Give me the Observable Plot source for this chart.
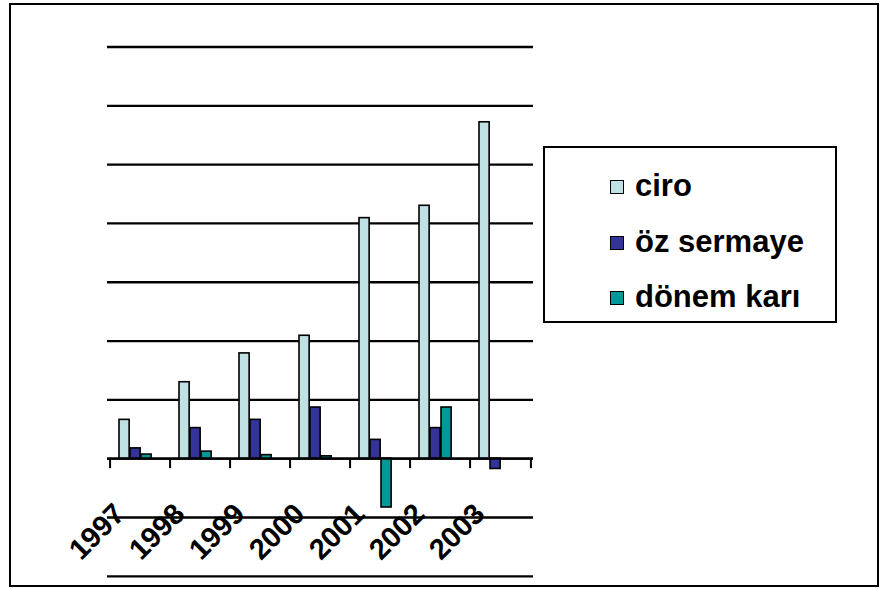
<!DOCTYPE html>
<html>
<head>
<meta charset="utf-8">
<script src="https://cdn.jsdelivr.net/npm/d3@7"></script>
<script src="https://cdn.jsdelivr.net/npm/@observablehq/plot@0.6"></script>
<style>
  html, body { margin: 0; padding: 0; background: #fff; }
  #wrap { position: relative; width: 880px; height: 589px; overflow: hidden; font-family: "Liberation Sans", Arial, sans-serif; }
  #frame { position: absolute; left: 9px; top: 3px; width: 866px; height: 580px; border: 2px solid #000; pointer-events: none; }
  #chart { position: absolute; left: 0; top: 0; }
  #legend { position: absolute; left: 543px; top: 146px; width: 290px; height: 173px; border: 2px solid #000; background: #fff; }
  .item { position: absolute; left: 65px; display: flex; align-items: center; font-weight: bold; font-size: 31px; color: #000; line-height: 1; white-space: nowrap; }
  .sw { width: 12px; height: 12px; border: 1.6px solid #000; margin-right: 11px; margin-top: 3px; }
</style>
</head>
<body>
<div id="wrap">
  <div id="chart"></div>
  <div id="legend"></div>
  <div id="frame"></div>
</div>
<script>
const years = ["1997", "1998", "1999", "2000", "2001", "2002", "2003"];
const seriesNames = ["ciro", "öz sermaye", "dönem karı"];
const ciro = [0.66, 1.30, 1.79, 2.09, 4.09, 4.30, 5.72];
const ozSermaye = [0.175, 0.52, 0.66, 0.87, 0.32, 0.52, -0.175];
const donemKari = [0.07, 0.12, 0.06, 0.04, -0.83, 0.87, null];
const gridValues = [-2, -1, 0, 1, 2, 3, 4, 5, 6, 7];
const colors = ["#C0E1E4", "#333399", "#009999"];

const seriesValues = [ciro, ozSermaye, donemKari];
const rows = seriesValues.map((vals) =>
  years.map((year, i) => ({year, value: vals[i]})).filter(d => d.value != null)
);

const W = 880, H = 589;
const mL = 107, mR = 347;
const band = (W - mL - mR) / years.length;
const barW = 11, barOff = 9;

const barMarks = rows.map((data, s) =>
  Plot.barY(data, {
    x: "year", y: "value",
    fill: colors[s], stroke: "#000", strokeWidth: 1.6,
    insetLeft: barOff + barW * s,
    insetRight: band - barOff - barW * (s + 1)
  })
);

const chart = Plot.plot({
  width: W, height: H,
  marginLeft: mL, marginRight: mR, marginTop: 46.5, marginBottom: 13.2,
  x: {type: "band", domain: years, padding: 0, axis: null},
  y: {domain: [-2, 7], axis: null},
  style: {background: "transparent"},
  marks: [
    Plot.ruleY(gridValues, {stroke: "#000", strokeWidth: 2.3}),
    ...barMarks,
    Plot.ruleX(years, {x: d => d, y1: 0, y2: 0, dx: -band / 2, insetBottom: -10, stroke: "#000", strokeWidth: 2}),
    Plot.ruleX(years.slice(-1), {x: d => d, y1: 0, y2: 0, dx: band / 2, insetBottom: -10, stroke: "#000", strokeWidth: 2}),
    Plot.ruleY([0], {stroke: "#000", strokeWidth: 2.3}),
    Plot.text(years, {
      x: d => d, y: () => 0, text: d => d,
      rotate: -45, textAnchor: "end", lineAnchor: "bottom",
      dx: -14, dy: 57,
      fontSize: 29, fontWeight: "bold", fill: "#000",
      fontFamily: "Liberation Sans, Arial, sans-serif"
    })
  ]
});
document.getElementById("chart").appendChild(chart);

const legend = document.getElementById("legend");
const tops = [22, 78, 133];
seriesNames.forEach((name, i) => {
  const item = document.createElement("div");
  item.className = "item";
  item.style.top = tops[i] + "px";
  const sw = document.createElement("span");
  sw.className = "sw";
  sw.style.background = colors[i];
  const label = document.createElement("span");
  label.textContent = name;
  item.appendChild(sw);
  item.appendChild(label);
  legend.appendChild(item);
});
</script>
</body>
</html>
